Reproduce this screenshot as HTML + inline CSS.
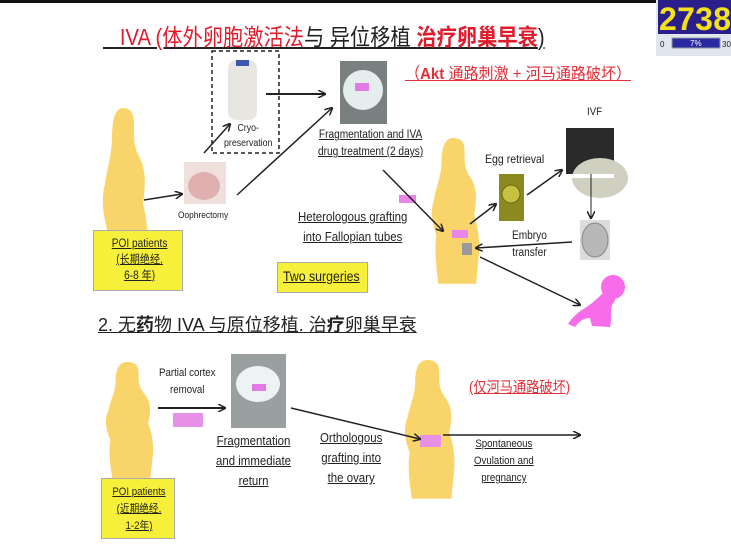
<!DOCTYPE html>
<html><head><meta charset="utf-8"><style>
html,body{margin:0;padding:0;background:#fff;}
body{width:731px;height:554px;position:relative;overflow:hidden;font-family:"Liberation Sans","Noto Sans CJK SC",sans-serif;}
.t{position:absolute;white-space:nowrap;color:#222;transform:scaleX(0.88);transform-origin:left top;}
.u{text-decoration:underline;}
.c{text-align:center;}
</style></head><body>
<svg width="731" height="554" style="position:absolute;left:0;top:0">
<defs>
<marker id="a" markerWidth="8" markerHeight="8" refX="7" refY="4" orient="auto" markerUnits="userSpaceOnUse"><path d="M0,0 L8,4 L0,8" fill="none" stroke="#222" stroke-width="1.5"/></marker>
<path id="w" d="M22,0 C30,0 33,6 33,16 C33,28 32,36 38,48 C46,62 44,80 42,95 C46,110 48,130 46,150 L44,180 L8,180 C6,160 4,140 6,120 C2,105 0,90 4,75 C6,60 11,45 11,30 C11,12 14,0 22,0 Z" fill="#f9d46a"/>
</defs>
<rect x="0" y="0" width="731" height="3" fill="#111"/>
<rect x="656" y="0" width="75" height="56" fill="#dfe6ee"/>
<rect x="658" y="0" width="73" height="34" fill="#2a1f8a"/>
<text x="659" y="30" font-family="Liberation Sans" font-weight="bold" font-size="32" fill="#f5e11a" textLength="72">2738</text>
<rect x="672" y="38" width="48" height="10" fill="#2a2aa0" stroke="#999"/>
<text x="660" y="47" font-size="8" fill="#222">0</text>
<text x="690" y="46" font-size="8" fill="#fff">7%</text>
<text x="722" y="47" font-size="8" fill="#222">30</text>
<use href="#w" transform="translate(101,108) scale(1.0,1.01)"/>
<use href="#w" transform="translate(430,138) scale(1.05,0.81)"/>
<use href="#w" transform="translate(104,362) scale(1.05,0.65)"/>
<use href="#w" transform="translate(403,360) scale(1.1,0.77)"/>
<g fill="#f76ce8">
<circle cx="613" cy="287" r="12"/>
<path d="M604,292 C596,300 590,305 585,308 C578,312 572,318 568,324 L575,327 C580,320 585,318 590,318 L592,326 L610,327 C612,320 610,312 612,305 C616,300 617,296 612,293 Z"/>
</g>
<rect x="228" y="60" width="29" height="60" rx="8" fill="#e8e6e0"/>
<rect x="236" y="60" width="13" height="6" fill="#3a56b0"/>
<rect x="212" y="51" width="67" height="102" fill="none" stroke="#222" stroke-width="1.5" stroke-dasharray="4,3"/>
<rect x="340" y="61" width="47" height="63" fill="#7a7f80"/>
<ellipse cx="363" cy="90" rx="20" ry="20" fill="#e6eded"/>
<rect x="355" y="83" width="14" height="8" fill="#e07ae6"/>
<rect x="184" y="162" width="42" height="42" fill="#efe0dc"/>
<ellipse cx="204" cy="186" rx="16" ry="14" fill="#e0b0b0"/>
<rect x="499" y="174" width="25" height="47" fill="#8a8a20"/>
<circle cx="511" cy="194" r="9" fill="#c8c040" stroke="#6a6a10"/>
<rect x="566" y="128" width="48" height="46" fill="#2a2a2a"/>
<ellipse cx="600" cy="178" rx="28" ry="20" fill="#d0d0c0"/>
<rect x="566" y="174" width="48" height="4" fill="#fff"/>
<rect x="580" y="220" width="30" height="40" fill="#dcdcdc"/>
<ellipse cx="595" cy="240" rx="13" ry="17" fill="#b8b8b8" stroke="#888"/>
<rect x="462" y="243" width="10" height="12" fill="#999"/>
<rect x="452" y="230" width="16" height="8" fill="#e987e8"/>
<rect x="399" y="195" width="17" height="8" fill="#e987e8"/>
<rect x="231" y="354" width="55" height="74" fill="#9aa0a0"/>
<ellipse cx="258" cy="384" rx="22" ry="18" fill="#eef2f2"/>
<rect x="252" y="384" width="14" height="7" fill="#e07ae6"/>
<rect x="173" y="413" width="30" height="14" fill="#e690e6"/>
<rect x="420" y="435" width="21" height="12" fill="#e690e6"/>
<g stroke="#222" stroke-width="1.5" fill="none" marker-end="url(#a)">
<line x1="266" y1="94" x2="325" y2="94" stroke-width="2"/>
<line x1="144" y1="200" x2="182" y2="194"/>
<line x1="204" y1="153" x2="230" y2="124"/>
<line x1="237" y1="195" x2="332" y2="108"/>
<line x1="383" y1="170" x2="443" y2="231"/>
<line x1="470" y1="224" x2="496" y2="204"/>
<line x1="527" y1="195" x2="562" y2="170"/>
<line x1="591" y1="174" x2="591" y2="218" stroke-width="1"/>
<line x1="572" y1="242" x2="476" y2="248"/>
<line x1="480" y1="257" x2="580" y2="305"/>
<line x1="158" y1="408" x2="225" y2="408" stroke-width="2"/>
<line x1="291" y1="408" x2="420" y2="439"/>
<line x1="443" y1="435" x2="580" y2="435"/>
</g>
</svg>
<div style="position:absolute;left:93px;top:230px;width:88px;height:59px;background:#f7f03a;border:1px solid #aaa;"></div>
<div style="position:absolute;left:277px;top:262px;width:89px;height:29px;background:#f7f03a;border:1px solid #aaa;"></div>
<div style="position:absolute;left:101px;top:478px;width:72px;height:59px;background:#f7f03a;border:1px solid #aaa;"></div>
<div class="t u" style="left:103px;top:18px;font-size:23px;"><span style="color:#fff">1.</span><span style="color:#e01c2c">IVA (体外卵胞激活法</span>与 异位移植 <span style="color:#e01c2c;font-weight:bold">治疗卵巢早衰</span>)</div>
<div class="t u" style="left:405px;top:60px;font-size:16px;color:#e0303a;transform:scaleX(0.94)">（<b>Akt</b> 通路刺激 + 河马通路破坏）</div>
<div class="t c" style="left:224px;top:121px;font-size:10px;line-height:15px;">Cryo-<br>preservation</div>
<div class="t c u" style="left:318px;top:127px;font-size:11.5px;line-height:17px;">Fragmentation and IVA<br>drug treatment (2 days)</div>
<div class="t" style="left:178px;top:210px;font-size:9.5px;">Oophrectomy</div>
<div class="t c" style="left:100px;top:236px;width:90px;font-size:11.5px;line-height:16px;"><span class="u">POI patients</span><br><span class="u">(长期绝经,</span><br><span class="u">6-8 年)</span></div>
<div class="t c u" style="left:298px;top:207px;font-size:13px;line-height:20px;">Heterologous grafting<br>into Fallopian tubes</div>
<div class="t u" style="left:283px;top:268px;font-size:14px;">Two surgeries</div>
<div class="t" style="left:485px;top:152px;font-size:12px;">Egg retrieval</div>
<div class="t" style="left:587px;top:106px;font-size:11px;">IVF</div>
<div class="t c" style="left:512px;top:228px;font-size:11.5px;line-height:17px;">Embryo<br>transfer</div>
<div class="t u" style="left:98px;top:311px;font-size:18px;transform:none">2. 无<b>药</b>物 IVA 与原位移植. 治<b>疗</b>卵巢早衰</div>
<div class="t c" style="left:159px;top:365px;font-size:11px;line-height:17px;">Partial cortex<br>removal</div>
<div class="t c u" style="left:216px;top:431px;font-size:13px;line-height:20px;">Fragmentation<br>and immediate<br>return</div>
<div class="t c u" style="left:320px;top:428px;font-size:13px;line-height:20px;">Orthologous<br>grafting into<br>the ovary</div>
<div class="t c u" style="left:474px;top:436px;font-size:11px;line-height:17px;">Spontaneous<br>Ovulation and<br>pregnancy</div>
<div class="t u" style="left:469px;top:376px;font-size:15px;color:#e0303a;">(仅河马通路破坏)</div>
<div class="t c" style="left:106px;top:484px;width:75px;font-size:11px;line-height:17px;"><span class="u">POI patients</span><br><span class="u">(近期绝经,</span><br><span class="u">1-2年)</span></div>
</body></html>
